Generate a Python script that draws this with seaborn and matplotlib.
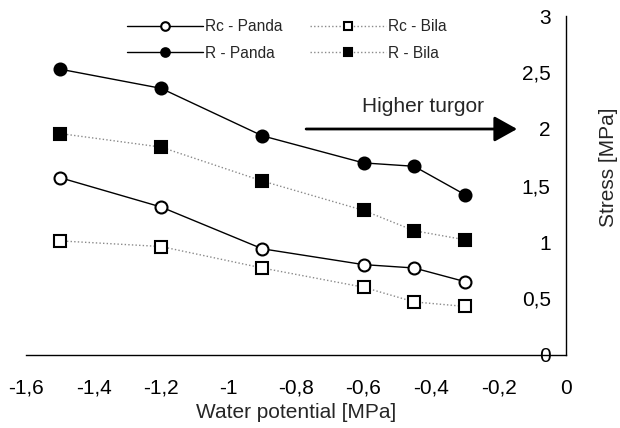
import matplotlib
matplotlib.use("Agg")
import matplotlib.pyplot as plt
import seaborn as sns
import pandas as pd

# ---- data ----
water_potential = [-1.5, -1.2, -0.9, -0.6, -0.45, -0.3]
rc_panda = [1.57, 1.31, 0.94, 0.80, 0.77, 0.65]
rc_bila = [1.01, 0.96, 0.77, 0.60, 0.47, 0.43]
r_panda = [2.53, 2.36, 1.94, 1.70, 1.67, 1.42]
r_bila = [1.96, 1.84, 1.54, 1.28, 1.10, 1.02]
series_names = ["Rc - Panda", "R - Panda", "Rc - Bila", "R - Bila"]

x_ticks = [-1.6, -1.4, -1.2, -1.0, -0.8, -0.6, -0.4, -0.2, 0.0]
x_tick_labels = ["-1,6", "-1,4", "-1,2", "-1", "-0,8", "-0,6", "-0,4", "-0,2", "0"]
y_ticks = [0, 0.5, 1, 1.5, 2, 2.5, 3]
y_tick_labels = ["0", "0,5", "1", "1,5", "2", "2,5", "3"]
x_label = "Water potential [MPa]"
y_label = "Stress [MPa]"
annotation = "Higher turgor"

sns.set_style("white")
plt.rcParams["font.family"] = ["Liberation Sans", "DejaVu Sans"]

W, H = 620, 428
ax_l, ax_r, ax_t, ax_b = 26, 566, 16, 355
fig = plt.figure(figsize=(6.2, 4.28), dpi=100)
ax = fig.add_axes([ax_l / W, 1 - ax_b / H, (ax_r - ax_l) / W, (ax_b - ax_t) / H])

dotted = (0, (1, 1.6))
styles = {
    "Rc - Panda": dict(values=rc_panda, ls="-", color="black", marker="o", mfc="white", ms=8.6),
    "R - Panda": dict(values=r_panda, ls="-", color="black", marker="o", mfc="black", ms=8.6),
    "Rc - Bila": dict(values=rc_bila, ls=dotted, color="#8a8a8a", marker="s", mfc="white", ms=8.0),
    "R - Bila": dict(values=r_bila, ls=dotted, color="#8a8a8a", marker="s", mfc="black", ms=8.0),
}

for name in series_names:
    st = styles[name]
    df = pd.DataFrame({"x": water_potential, "y": st["values"]})
    sns.lineplot(data=df, x="x", y="y", ax=ax, color=st["color"], linestyle=st["ls"],
                 linewidth=1.0, marker=st["marker"], markersize=st["ms"],
                 markerfacecolor=st["mfc"], markeredgecolor="black", markeredgewidth=1.5,
                 label=name, legend=True)

ax.set_xlim(-1.6, 0)
ax.set_ylim(0, 3)
ax.set_xticks(x_ticks)
ax.set_xticklabels(x_tick_labels)
ax.set_yticks(y_ticks)
ax.set_yticklabels(y_tick_labels)

for s in ["top", "right"]:
    ax.spines[s].set_visible(False)
ax.spines["left"].set_position(("data", 0))
for s in ["left", "bottom"]:
    ax.spines[s].set_color("black")
    ax.spines[s].set_linewidth(1.0)

ax.tick_params(axis="both", direction="out", length=5, width=1.0, color="black",
               labelsize=15, colors="black")
ax.tick_params(axis="x", pad=12)
ax.tick_params(axis="y", pad=6)

ax.set_xlabel(x_label, fontsize=15, labelpad=4)
ax.set_ylabel(y_label, fontsize=15)
ax.yaxis.set_label_position("right")
ax.yaxis.label.set_verticalalignment("center")
ax.yaxis.set_label_coords((608 - ax_l) / (ax_r - ax_l), (ax_b - 167) / (ax_b - ax_t))
ax.grid(False)

ax.annotate("", xy=(-0.145, 2.0), xytext=(-0.77, 2.0),
            arrowprops=dict(arrowstyle="-|>,head_length=1.4,head_width=0.78",
                            color="black", lw=2.0, shrinkA=0, shrinkB=0))
ax.text(-0.425, 2.2, annotation, fontsize=15, ha="center", va="center")

handles, labels = ax.get_legend_handles_labels()
order = [labels.index(n) for n in series_names]
leg = ax.legend([handles[i] for i in order], [labels[i] for i in order], ncol=2,
                frameon=False, fontsize=11.2, handlelength=4.9, handletextpad=0.12,
                columnspacing=1.75, labelspacing=0.76, markerscale=0.72,
                loc="upper left", bbox_to_anchor=(127 / W, 1 - 19 / H),
                bbox_transform=fig.transFigure, borderaxespad=0, borderpad=0)

fig.savefig("out.png", dpi=100)
